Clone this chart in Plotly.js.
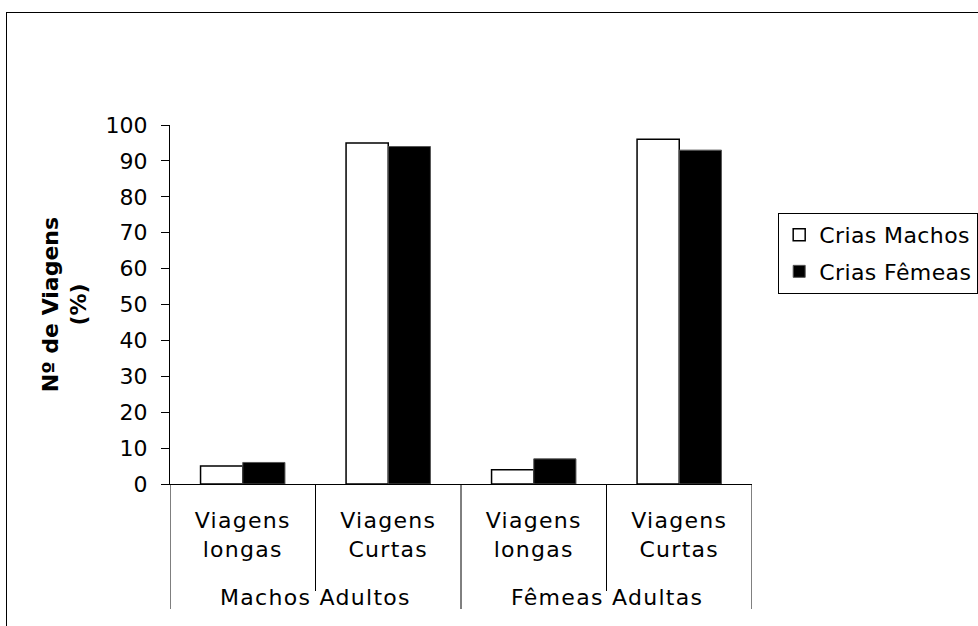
<!DOCTYPE html>
<html>
<head>
<meta charset="utf-8">
<script src="https://cdn.plot.ly/plotly-3.0.1.min.js"></script>
<style>
  html, body { margin: 0; padding: 0; background: #fff; }
  #wrap { position: relative; width: 978px; height: 626px; overflow: hidden; }
  #chart { position: absolute; left: 0; top: 0; width: 978px; height: 626px; }
  #frame { position: absolute; left: 6px; top: 12px; width: 1000px; height: 700px;
           border: 1.5px solid #000; pointer-events: none; }
  .xtick text, .annotation-text { letter-spacing: 1.3px; }
  .legendtext { letter-spacing: 0.4px; }
</style>
</head>
<body>
<div id="wrap">
  <div id="chart"></div>
  <div id="frame"></div>
</div>
<script>
const groupNames = ['Machos Adultos', 'Fêmeas Adultas'];
const groupOf = [0, 0, 1, 1];
const trips = ['Viagens<br>longas', 'Viagens<br>Curtas', 'Viagens<br>longas', 'Viagens<br>Curtas'];
const criasMachos = [5, 95, 4, 96];
const criasFemeas = [6, 94, 7, 93];
const seriesNames = ['Crias Machos', 'Crias Fêmeas'];
const yTicks = [0, 10, 20, 30, 40, 50, 60, 70, 80, 90, 100];

const font = 'DejaVu Sans, Verdana, sans-serif';
const fs = 22;
const idx = trips.map((_, i) => i);

const data = [
  {
    type: 'bar', name: seriesNames[0], x: idx, y: criasMachos, legendgroup: 'a',
    marker: { color: '#ffffff', line: { color: '#000', width: 1.5 } }
  },
  {
    type: 'bar', name: seriesNames[1], x: idx, y: criasFemeas, legendgroup: 'b',
    marker: { color: '#000000', line: { color: '#555', width: 1 } }
  }
];

// category boundary lines (below the axis)
const plotH = 626 - 125 - 142;
const innerLen = 107 / plotH, outerLen = 125 / plotH;
const shapes = [];
for (let b = 0; b <= trips.length; b++) {
  const isGroupEdge = b === 0 || b === trips.length || groupOf[b] !== groupOf[b - 1];
  shapes.push({
    type: 'line', xref: 'x', yref: 'paper',
    x0: b - 0.5, x1: b - 0.5, y0: 0, y1: -(isGroupEdge ? outerLen : innerLen),
    line: { color: '#000', width: 1 }
  });
}

// group labels
const annotations = groupNames.map((g, gi) => {
  const members = idx.filter(i => groupOf[i] === gi);
  const center = members.reduce((s, v) => s + v, 0) / members.length;
  return {
    text: g, x: center, xref: 'x', y: -(113 / plotH), yref: 'paper',
    xanchor: 'center', yanchor: 'middle', showarrow: false,
    font: { family: font, size: fs, color: '#000' }
  };
});

const layout = {
  width: 978, height: 626,
  margin: { l: 170, r: 226, t: 125, b: 142, autoexpand: false },
  paper_bgcolor: 'rgba(0,0,0,0)', plot_bgcolor: 'rgba(0,0,0,0)',
  font: { family: font, size: fs, color: '#000' },
  barmode: 'group', bargap: 0.42, bargroupgap: 0,
  showlegend: true,
  legend: {
    x: 1.045, y: 0.755, xanchor: 'left', yanchor: 'top',
    bordercolor: '#000', borderwidth: 1, bgcolor: '#fff',
    font: { family: font, size: fs, color: '#000' },
    traceorder: 'grouped', tracegroupgap: 5, itemwidth: 30
  },
  xaxis: {
    range: [-0.5, trips.length - 0.5],
    tickvals: idx, ticktext: trips, tickangle: 0,
    showline: true, linecolor: '#000', linewidth: 1,
    ticks: '', ticklabelstandoff: 17,
    showgrid: false, zeroline: false,
    tickfont: { family: font, size: fs, color: '#000' }
  },
  yaxis: {
    range: [0, 100], tickvals: yTicks, ticktext: yTicks.map(String),
    showline: true, linecolor: '#000', linewidth: 1,
    ticks: 'outside', ticklen: 8, tickcolor: '#000',
    ticklabelstandoff: 9,
    showgrid: false, zeroline: false,
    tickfont: { family: font, size: fs, color: '#000' },
    title: { text: '<b>Nº de Viagens<br>(%)</b>', font: { family: font, size: fs, color: '#000' }, standoff: 12 }
  },
  shapes: shapes,
  annotations: annotations
};

Plotly.newPlot('chart', data, layout, { displayModeBar: false, staticPlot: true });
</script>
</body>
</html>
